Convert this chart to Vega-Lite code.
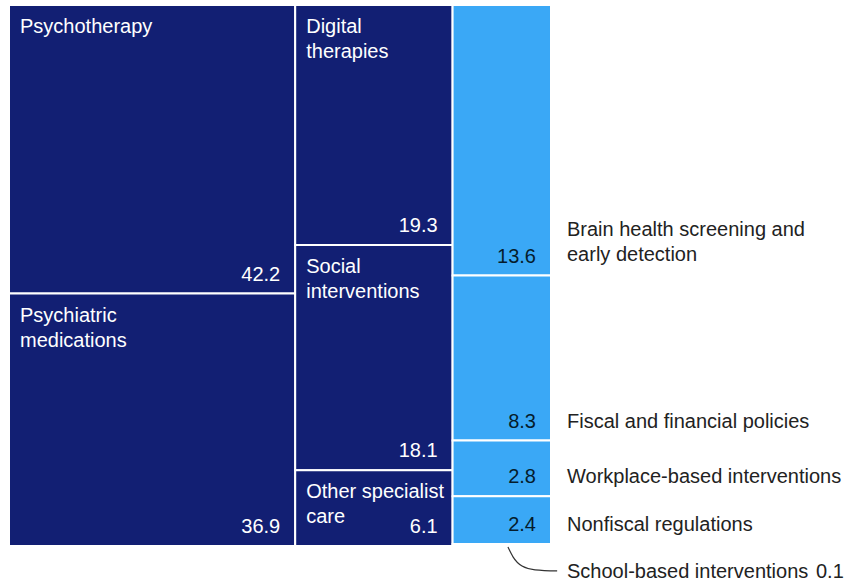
{
  "$schema": "https://vega.github.io/schema/vega-lite/v6.json",
  "width": 849,
  "height": 541,
  "autosize": {"type": "none"},
  "padding": {"left": 9, "top": 5, "right": 0, "bottom": 36},
  "background": "white",
  "config": {"view": {"stroke": null}, "font": "Liberation Sans"},
  "datasets": {
    "spend": [
      {"col": 1, "order": 1, "group": "treatment", "label": "Psychotherapy", "value": 42.2},
      {"col": 1, "order": 2, "group": "treatment", "label": "Psychiatric\nmedications", "value": 36.9},
      {"col": 2, "order": 3, "group": "treatment", "label": "Digital\ntherapies", "value": 19.3},
      {"col": 2, "order": 4, "group": "treatment", "label": "Social\ninterventions", "value": 18.1},
      {"col": 2, "order": 5, "group": "treatment", "label": "Other specialist\ncare", "value": 6.1},
      {"col": 3, "order": 6, "group": "prevention", "label": "Brain health screening and\nearly detection", "value": 13.6},
      {"col": 3, "order": 7, "group": "prevention", "label": "Fiscal and financial policies", "value": 8.3},
      {"col": 3, "order": 8, "group": "prevention", "label": "Workplace-based interventions", "value": 2.8},
      {"col": 3, "order": 9, "group": "prevention", "label": "Nonfiscal regulations", "value": 2.4},
      {"col": 3, "order": 10, "group": "prevention", "label": "School-based interventions", "value": 0.1}
    ],
    "leader": [
      {"lx": 137.9, "ly": 1.002},
      {"lx": 139.3, "ly": 1.02},
      {"lx": 141.8, "ly": 1.037},
      {"lx": 145.4, "ly": 1.044},
      {"lx": 151.5, "ly": 1.046}
    ]
  },
  "layer": [
    {
      "data": {"name": "spend"},
      "transform": [
        {"stack": "value", "groupby": [], "sort": [{"field": "order", "order": "ascending"}], "as": ["g0", "g1"]},
        {"joinaggregate": [{"op": "min", "field": "g0", "as": "xStart"}, {"op": "max", "field": "g1", "as": "xEnd"}], "groupby": ["col"]},
        {"stack": "value", "groupby": ["col"], "sort": [{"field": "order", "order": "ascending"}], "offset": "normalize", "as": ["y0", "y1"]}
      ],
      "layer": [
        {
          "mark": {"type": "rect", "stroke": "white", "strokeWidth": 2},
          "encoding": {
            "x": {"field": "xStart", "type": "quantitative", "scale": {"domain": [0, 234.65], "nice": false, "zero": false}, "axis": null},
            "x2": {"field": "xEnd"},
            "y": {"field": "y0", "type": "quantitative", "scale": {"domain": [0, 1], "reverse": true, "nice": false, "zero": false}, "axis": null},
            "y2": {"field": "y1"},
            "color": {"field": "group", "type": "nominal", "scale": {"domain": ["treatment", "prevention"], "range": ["#121f73", "#3aa8f6"]}, "legend": null}
          }
        },
        {
          "transform": [{"filter": "datum.group === 'treatment'"}],
          "mark": {"type": "text", "align": "left", "baseline": "top", "dx": 11, "dy": 12, "fontSize": 20, "lineHeight": 25, "lineBreak": "\n", "color": "#ffffff"},
          "encoding": {
            "x": {"field": "xStart", "type": "quantitative"},
            "y": {"field": "y0", "type": "quantitative"},
            "text": {"field": "label"}
          }
        },
        {
          "transform": [{"filter": "datum.value >= 1"}],
          "mark": {"type": "text", "align": "right", "baseline": "alphabetic", "dx": -15, "dy": -13, "fontSize": 20},
          "encoding": {
            "x": {"field": "xEnd", "type": "quantitative"},
            "y": {"field": "y1", "type": "quantitative"},
            "text": {"field": "value", "type": "quantitative", "format": ".1f"},
            "color": {"condition": {"test": "datum.group === 'prevention'", "value": "#051c2c"}, "value": "#ffffff"}
          }
        },
        {
          "transform": [{"filter": "datum.group === 'prevention' && datum.value >= 1 && indexof(datum.label, '\\n') < 0"}],
          "mark": {"type": "text", "align": "left", "baseline": "alphabetic", "dx": 16, "dy": -13, "fontSize": 20, "color": "#222222"},
          "encoding": {
            "x": {"field": "xEnd", "type": "quantitative"},
            "y": {"field": "y1", "type": "quantitative"},
            "text": {"field": "label"}
          }
        },
        {
          "transform": [{"filter": "datum.group === 'prevention' && indexof(datum.label, '\\n') >= 0"}],
          "mark": {"type": "text", "align": "left", "baseline": "alphabetic", "dx": 16, "dy": -40, "fontSize": 20, "lineHeight": 25, "lineBreak": "\n", "color": "#222222"},
          "encoding": {
            "x": {"field": "xEnd", "type": "quantitative"},
            "y": {"field": "y1", "type": "quantitative"},
            "text": {"field": "label"}
          }
        },
        {
          "transform": [{"filter": "datum.value < 1"}],
          "mark": {"type": "text", "align": "left", "baseline": "alphabetic", "dx": 16, "dy": 32, "fontSize": 20, "color": "#222222"},
          "encoding": {
            "x": {"field": "xEnd", "type": "quantitative"},
            "y": {"field": "y1", "type": "quantitative"},
            "text": {"field": "label"}
          }
        },
        {
          "transform": [{"filter": "datum.value < 1"}],
          "mark": {"type": "text", "align": "left", "baseline": "alphabetic", "dx": 265, "dy": 32, "fontSize": 20, "color": "#222222"},
          "encoding": {
            "x": {"field": "xEnd", "type": "quantitative"},
            "y": {"field": "y1", "type": "quantitative"},
            "text": {"field": "value", "type": "quantitative", "format": ".1f"}
          }
        }
      ]
    },
    {
      "data": {"name": "leader"},
      "mark": {"type": "line", "interpolate": "monotone", "color": "#333333", "strokeWidth": 1.2},
      "encoding": {
        "x": {"field": "lx", "type": "quantitative"},
        "y": {"field": "ly", "type": "quantitative"}
      }
    }
  ]
}
